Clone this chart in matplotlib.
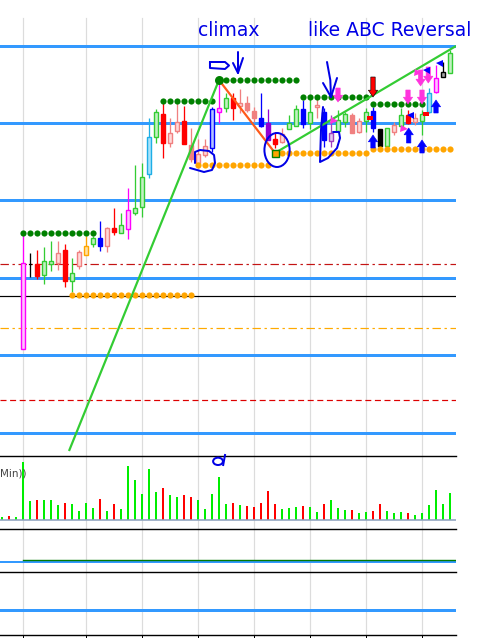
import numpy as np
import matplotlib
matplotlib.use('Agg')
import matplotlib.pyplot as plt
from matplotlib.patches import Rectangle, Ellipse

W, H, DPI = 482, 638, 100

# ---------------- data (arbitrary price units) ----------------
n_bars = 65
nan = np.nan
opens = [nan, nan, nan, 111, 196, 196, 185, 196, 197, 210, 179, 194, 205, 216, 222, 214, 232, 227, 231, 247,
         253, 286, 323, 346, 317, 329, 339, 315, 297, 305, 312, 348, 352, 362, 354, 357, 349, 342, 337, 321,
         318, 331, 334, 351, 337, 353, 348, 319, 329, 338, 345, 328, 339, 349, 331, 314, 328, 334, 345, 338,
         339, 348, 368, 388, 387]
closes = [nan, nan, nan, 197, 197, 184, 199, 199, 207, 179, 187, 208, 214, 222, 214, 232, 228, 235, 250, 252,
          283, 323, 348, 317, 327, 338, 316, 301, 306, 314, 351, 352, 362, 352, 357, 350, 342, 334, 320, 316,
          326, 337, 351, 336, 348, 355, 320, 327, 340, 346, 327, 339, 348, 332, 314, 332, 335, 345, 337, 342,
          346, 367, 382, 383, 407]
highs = [nan, nan, nan, 225, 207, 210, 213, 219, 219, 216, 202, 210, 224, 224, 239, 233, 252, 247, 272, 295,
         297, 342, 351, 360, 342, 360, 354, 332, 321, 321, 353, 380, 367, 367, 371, 364, 353, 367, 351, 328,
         332, 345, 355, 360, 363, 363, 352, 345, 350, 348, 347, 342, 352, 353, 331, 332, 338, 352, 350, 347,
         350, 372, 395, 398, 410]
lows = [nan, nan, nan, 111, 183, 181, 176, 189, 190, 173, 168, 191, 205, 213, 209, 208, 225, 227, 221, 245,
        243, 282, 317, 302, 313, 327, 316, 298, 292, 303, 308, 337, 348, 340, 347, 348, 338, 333, 320, 312,
        317, 331, 334, 332, 331, 342, 313, 313, 328, 333, 327, 327, 328, 328, 314, 314, 325, 332, 336, 335,
        325, 347, 367, 383, 387]
candle_style = [None, None, None, 'mH', 'k', 'rF', 'gH', 'gH', 'sH', 'rF', 'gH', 'sH', 'oH', 'gH', 'bF', 'sH',
                'rF', 'gH', 'mH', 'gH', 'gH', 'cH', 'gH', 'rF', 'sH', 'sH', 'rF', 'sF', 'sH', 'sH', 'bH', 'mH',
                'gH', 'rF', 'sH', 'sF', 'sF', 'bF', 'pF', 'rF', 'sH', 'gH', 'gH', 'bF', 'gH', 'sH', 'bF', 'lH',
                'gH', 'gH', 'sF', 'sH', 'gH', 'bF', 'kF', 'gH', 'sH', 'gH', 'rF', 'sH', 'gH', 'cH', 'mH', 'gF',
                'gH']

volume = [8, 11, 8, 173, 56, 59, 59, 59, 44, 50, 47, 26, 50, 35, 62, 26, 47, 32, 161, 119, 77, 152, 83, 95,
          74, 68, 74, 68, 59, 32, 77, 128, 47, 50, 44, 41, 38, 50, 86, 47, 32, 35, 38, 41, 38, 23, 47, 59, 35,
          29, 29, 20, 23, 26, 47, 26, 20, 23, 20, 14, 20, 44, 89, 47, 80]
volume_dir = list("GRGGGRGGGRGGGGRGRGGGGGGRGGRRGGGGGRGRRRRRGGGRGGRGGGRGGRRGGGRGGGGGG")

# horizontal price levels
blue_levels = [414, 337, 260, 182, 105, 27]
red_dashdot_level = 196
black_level = 164
orange_dashdot_level = 132
red_dashed_level = 60

# dotted support / resistance runs: (first bar, last bar, level)
green_dot_runs = [(3, 13, 227), (23, 30, 359), (31, 42, 380), (43, 52, 363), (53, 60, 356)]
orange_dot_runs = [(10, 27, 165), (28, 38, 295), (39, 52, 307), (53, 64, 311)]

# trend lines (bar, price)
green_line1 = [(9.57, 9), (31, 380)]
green_line2 = [(39, 307), (64.86, 414)]
orange_line = [(31, 380), (39, 307)]

# signal markers
red_down_arrows = [(53, 383, 363)]
blue_up_arrows = [(53, 312, 325), (58.1, 317, 332), (60, 307, 320), (62, 347, 360)]
magenta_down_arrows = [(48, 372, 358), (58, 370, 356), (60, 370, 356), (59.8, 390, 374), (60.9, 393, 377)]
magenta_right_tri = [(47.5, 339), (57.4, 331), (59.4, 387)]
blue_left_tri = [(58.3, 345), (60.6, 390), (62.4, 397)]
red_ticks = [(52.6, 342), (60.6, 346)]

grid_bars = [3, 12, 20, 28, 36, 44, 52, 60]

# ---------------- styles ----------------
STY = {
    'gH': ('#33cc33', '#c2f0c2'), 'rF': ('#ff0000', '#ff0000'), 'sH': ('#f08080', '#ffd9d9'),
    'sF': ('#f08080', '#f08080'), 'mH': ('#ff00ff', '#ffc4ff'), 'bF': ('#0000ff', '#0000ff'),
    'bH': ('#0000ff', '#b4c4ff'), 'cH': ('#1eaee6', '#a6e2fb'), 'oH': ('#ffa500', '#ffe0a0'),
    'pF': ('#9400d3', '#9400d3'), 'lH': ('#a040c0', '#e0c8f0'), 'kF': ('#000000', '#000000'),
    'gF': ('#000000', '#a8a8a8'), 'k': ('#000000', '#000000'),
}
HAND = '#0000e6'
PX = 72.0 / DPI  # one pixel in points

fig = plt.figure(figsize=(W / DPI, H / DPI), dpi=DPI)
fig.patch.set_facecolor('white')


def pax(top, bottom, left=0, right=456):
    a = fig.add_axes([left / W, 1 - bottom / H, (right - left) / W, (bottom - top) / H])
    a.set_xlim(-2 / 7, 454 / 7)
    for s in a.spines.values():
        s.set_visible(False)
    a.set_xticks([])
    a.set_yticks([])
    a.patch.set_alpha(0)
    return a


ax = pax(0, 456)
ax.set_ylim(4, 460)
axv = pax(456, 529)
axv.set_ylim(-27, 192)
ax3 = pax(529, 572)
ax3.set_ylim(0, 43)
ax4 = pax(572, 635)
ax4.set_ylim(0, 63)

for a in (axv, ax3, ax4):
    a.spines['top'].set_visible(True)
    a.spines['top'].set_color('black')
    a.spines['top'].set_linewidth(1.4 * PX)
ax4.spines['bottom'].set_visible(True)
ax4.spines['bottom'].set_linewidth(1.4 * PX)
ax4.set_xticks(grid_bars)
ax4.set_xticklabels([])
ax4.tick_params(axis='x', direction='out', length=3 * PX * 1.4, width=1 * PX, colors='black')

# vertical grid
for g in grid_bars:
    ax.axvline(g, ymin=0, ymax=(456 - 18) / 456, color='#dcdcdc', lw=1.2 * PX, zorder=0)
    for a in (axv, ax3, ax4):
        a.axvline(g, color='#dcdcdc', lw=1.2 * PX, zorder=0)

# horizontal levels
for lv in blue_levels:
    ax.axhline(lv, color='#3399ff', lw=3 * PX, zorder=1)
ax.axhline(red_dashdot_level, color='#c41414', lw=1.2 * PX, ls=(0, (7, 3, 2, 3)), zorder=1)
ax.axhline(black_level, color='black', lw=1.2 * PX, zorder=1)
ax.axhline(orange_dashdot_level, color='#ffaa00', lw=1.2 * PX, ls=(0, (7, 3, 2, 3)), zorder=1)
ax.axhline(red_dashed_level, color='#dd0000', lw=1.2 * PX, ls=(0, (5, 3)), zorder=1)

# candles
bw = 0.7
for i in range(n_bars):
    st = candle_style[i]
    if st is None:
        continue
    ec, fc = STY[st]
    o, c, h, l = opens[i], closes[i], highs[i], lows[i]
    ax.plot([i, i], [l, h], color=ec, lw=1.3 * PX, zorder=3, solid_capstyle='butt')
    lo, hi = min(o, c), max(o, c)
    if st == 'k':
        ax.plot([i - 0.2, i + 0.2], [o, o], color=ec, lw=1.2 * PX, zorder=3)
        continue
    ax.add_patch(Rectangle((i - bw / 2, lo), bw, max(hi - lo, 1.5), facecolor=fc, edgecolor=ec,
                           lw=1.4 * PX, zorder=3))

# dotted runs
for a0, a1, lv in green_dot_runs:
    xs = np.arange(a0, a1 + 1)
    ax.plot(xs, [lv] * len(xs), 'o', color='#008000', ms=6.2 * PX, mew=0, zorder=4)
for a0, a1, lv in orange_dot_runs:
    xs = np.arange(a0, a1 + 1)
    ax.plot(xs, [lv] * len(xs), 'o', color='#ffa500', ms=6.2 * PX, mew=0, zorder=4)
ax.plot([green_line1[1][0]], [green_line1[1][1]], 'o', color='#008000', ms=9 * PX, mew=0, zorder=6)
ax.plot([green_line2[0][0]], [green_line2[0][1]], 's', mfc='#ffa500', mec='#008000', ms=7 * PX,
        mew=1.4 * PX, zorder=6)

# trend lines
for ln, col in ((green_line1, '#33cc33'), (green_line2, '#33cc33'), (orange_line, '#ff5a1a')):
    ax.plot([p[0] for p in ln], [p[1] for p in ln], color=col, lw=2.2 * PX, zorder=5,
            solid_capstyle='butt')

# signal arrows
def block_arrow(x, y0, y1, fc, ec):
    ax.annotate('', xy=(x, y1), xytext=(x, y0),
                arrowprops=dict(arrowstyle='simple,head_length=0.7,head_width=0.95,tail_width=0.45',
                                fc=fc, ec=ec, lw=0.6 * PX, mutation_scale=7, shrinkA=0, shrinkB=0),
                zorder=6)

for x, y0, y1 in red_down_arrows:
    block_arrow(x, y0, y1, '#ff0000', 'black')
for x, y0, y1 in blue_up_arrows:
    block_arrow(x, y0, y1, '#0000ff', '#0000ff')
for x, y0, y1 in magenta_down_arrows:
    block_arrow(x, y0, y1, '#ff33dd', '#ff33dd')
ax.plot([p[0] for p in magenta_right_tri], [p[1] for p in magenta_right_tri], '>', color='#ff33dd',
        ms=7 * PX, mew=0, zorder=6)
ax.plot([p[0] for p in blue_left_tri], [p[1] for p in blue_left_tri], '<', color='#0000ff',
        ms=7 * PX, mew=0, zorder=6)
for x, y in red_ticks:
    ax.add_patch(Rectangle((x - 0.43, y - 1.7), 0.86, 3.4, facecolor='#ff0000', edgecolor='none', zorder=6))

# hand-drawn annotations (bar, price)
hand_strokes = [
    [(29.71, 398), (31.86, 398), (32.43, 394.5), (31.86, 391), (29.71, 392), (29.71, 398)],
    [(33.71, 408), (33.71, 387)], [(33.0, 397), (33.71, 387), (34.43, 402)],
    [(27.57, 297), (27.57, 308), (28.29, 310), (29.57, 309), (30.29, 305), (30.43, 297), (30.0, 290),
     (28.86, 288), (26.86, 292)],
    [(45.86, 353), (45.57, 330), (45.43, 298), (46.57, 302), (47.86, 312), (48.29, 322), (48.14, 328),
     (47.29, 328)],
    [(46.43, 398), (46.9, 380), (47.0, 363)], [(45.86, 377), (47.0, 363), (47.86, 382)],
]
for s in hand_strokes:
    ax.plot([p[0] for p in s], [p[1] for p in s], color=HAND, lw=2 * PX, zorder=7,
            solid_capstyle='round', solid_joinstyle='round')
ax.add_patch(Ellipse((39.29, 310), 3.6, 34, fill=False, edgecolor=HAND, lw=2 * PX, zorder=7))

ax.text(28, 424, 'climax', color=HAND, fontsize=13.5, ha='left', va='baseline', zorder=8)
ax.text(43.7, 424, 'like ABC Reversal', color=HAND, fontsize=13.5, ha='left', va='baseline', zorder=8)

# volume panel
vx = np.arange(n_bars)
vcol = ['#00ee00' if d == 'G' else '#ff0000' for d in volume_dir]
axv.bar(vx, volume, width=0.3, color=vcol, zorder=3)
axv.axhline(0, color='#8fa3bf', lw=1.6 * PX, zorder=4)
axv.text(-0.28, 138, 'Min))', fontsize=7.5, color='#444444', ha='left', va='center', zorder=5)
axv.add_patch(Ellipse((30.86, 176), 1.4, 22, fill=False, edgecolor=HAND, lw=2 * PX, zorder=7,
                      clip_on=False))
axv.plot([31.86, 31.6], [195, 165], color=HAND, lw=2 * PX, zorder=7, clip_on=False)

# lower indicator panels
ax3.axhline(10.5, color='#3399ff', lw=2 * PX, zorder=2)
ax3.plot([3, 64.86], [11.6, 11.6], color='#007a00', lw=1.4 * PX, zorder=3)
ax4.axhline(25, color='#3399ff', lw=3 * PX, zorder=2)

fig.savefig('out.png', dpi=DPI)
